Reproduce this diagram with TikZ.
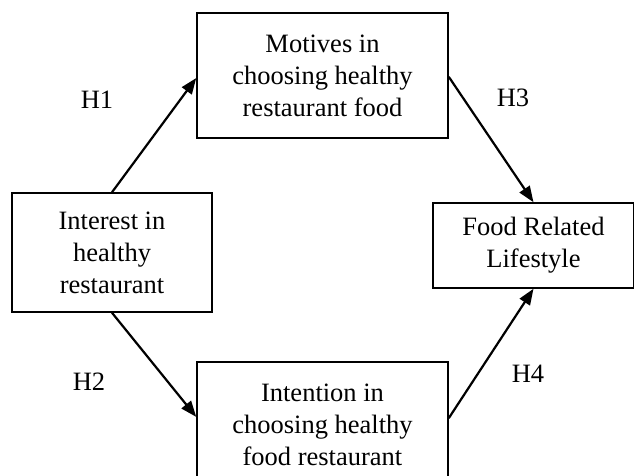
\documentclass[tikz,border=0pt]{standalone}
\usepackage{fontspec}
\setmainfont{Liberation Serif}
\usetikzlibrary{arrows.meta,calc}
\begin{document}
\begin{tikzpicture}[x=1pt,y=-1pt,
  box/.style={draw,line width=1.5pt,align=center,inner sep=0pt,font=\fontsize{26.5}{32}\selectfont},
  arr/.style={line width=2.2pt,-{Triangle[length=16pt,width=12pt]}},
  lab/.style={font=\fontsize{26.5}{32}\selectfont}]
\fill[white] (0,0) rectangle (634,475);
\useasboundingbox (0,0) rectangle (634,475);
\node[box,minimum width=251pt,minimum height=125pt] (mot) at (322.5,75.5) {Motives in\\choosing healthy\\restaurant food};
\node[box,minimum width=200pt,minimum height=119pt] (int) at (112,252.5) {Interest in\\healthy\\restaurant};
\node[box,minimum width=201pt,minimum height=85pt] (flr) at (533.5,245.5) {Food Related\\Lifestyle};
\node[box,minimum width=251pt,minimum height=125pt] (itn) at (322.5,424.5) {Intention in\\choosing healthy\\food restaurant};
\coordinate (mw) at ($(mot.north west)!0.52!(mot.south west)$);
\coordinate (me) at ($(mot.north east)!0.51!(mot.south east)$);
\coordinate (iw) at ($(itn.north west)!0.44!(itn.south west)$);
\coordinate (ie) at ($(itn.north east)!0.45!(itn.south east)$);
\draw[arr] (int.north) -- (mw);
\draw[arr] (me) -- (flr.north);
\draw[arr] (int.south) -- (iw);
\draw[arr] (ie) -- (flr.south);
\node[lab] (h1) at (97,100) {H1};
\node[lab] (h3) at (513,98) {H3};
\node[lab] (h2) at (89,382) {H2};
\node[lab] (h4) at (528,374) {H4};
\end{tikzpicture}
\end{document}
